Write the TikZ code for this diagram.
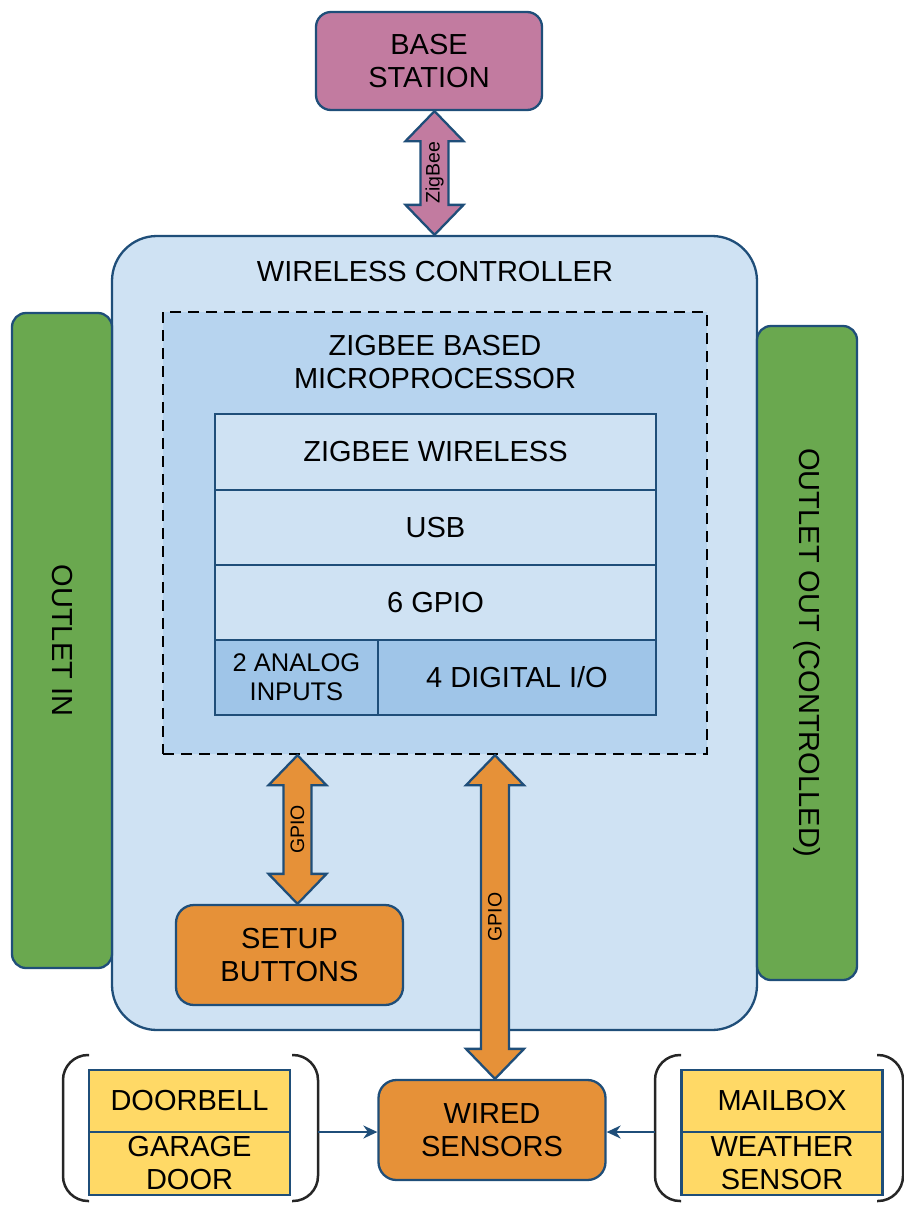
\documentclass[tikz,border=0pt]{standalone}
\usepackage{fontspec}
\setmainfont{Liberation Sans}
\usepackage{graphicx}
\usetikzlibrary{calc,arrows.meta}

\definecolor{bluebord}{HTML}{1F4E79}
\definecolor{pinkbox}{HTML}{C27BA0}
\definecolor{lightblue}{HTML}{CFE2F3}
\definecolor{midblue}{HTML}{B7D4EF}
\definecolor{darkblue}{HTML}{9FC5E8}
\definecolor{greenbox}{HTML}{6AA84F}
\definecolor{orangebox}{HTML}{E69138}
\definecolor{yellowbox}{HTML}{FFD966}

\newcommand{\mainsize}{\fontsize{29}{33}\selectfont}
\newcommand{\smallsize}{\fontsize{25.5}{29}\selectfont}
\newcommand{\tinysize}{\fontsize{19.5}{22}\selectfont}

% fat double arrow between two anchors, with a label along it
\newcommand{\fatarrow}[4]{%
	\draw[fatarrowline, fill=#3] let \p1=(#1), \p2=(#2) in
	(\x2,\y1) -- (\x2+29pt,\y1-30pt) -- (\x2+14pt,\y1-30pt) -- (\x2+14pt,\y2+30pt)
	-- (\x2+29pt,\y2+30pt) -- (\x2,\y2) -- (\x2-29pt,\y2+30pt) -- (\x2-14pt,\y2+30pt)
	-- (\x2-14pt,\y1-30pt) -- (\x2-29pt,\y1-30pt) -- cycle
	(\x2,{(\y1+\y2)/2}) node[rotate=90, font=\tinysize] {#4};}

\begin{document}
\begin{tikzpicture}[x=1pt,y=-1pt]
		
		\tikzstyle{bigbox}=[draw=bluebord,
		line width=2.3pt,
		rounded corners=15pt,
		inner sep=0pt,
		align=center,
		font=\mainsize
		]
		\tikzstyle{stackbox}=[draw=bluebord,
		line width=2.3pt,
		inner sep=0pt,
		align=center,
		font=\mainsize
		]
		\tikzstyle{fatarrowline}=[draw=bluebord,
		line width=2.3pt,
		line join=miter
		]
		\tikzstyle{bracket}=[draw=black!85,
		line width=2.5pt,
		rounded corners=25pt
		]
		\tikzstyle{thinarrow}=[draw=bluebord,
		line width=2pt,
		-{Stealth[length=14pt,width=13pt]}
		]
		
		\useasboundingbox (0,0) rectangle (904,1205);
		
		\coordinate (pbs) at (429, 61);
		\coordinate (pwc) at (434.5, 633);
		\coordinate (poin) at (62, 640.5);
		\coordinate (pout) at (807, 653);
		\coordinate (pmp) at (435, 533);
		
		\coordinate (pzw) at (435.5, 452);
		\coordinate (pusb) at (435.5, 527.5);
		\coordinate (pgp) at (435.5, 602.5);
		\coordinate (pan) at (296.5, 677.5);
		\coordinate (pdi) at (517, 677.5);
		
		\coordinate (psb) at (289.5, 955);
		\coordinate (pws) at (492, 1130);
		
		\coordinate (pdb) at (189.5, 1101);
		\coordinate (pgd) at (189.5, 1163.5);
		\coordinate (pmb) at (782, 1101);
		\coordinate (pwe) at (782, 1163.5);
		
		\coordinate (lbe) at (318, 1132);
		\coordinate (rbe) at (655, 1132);
		
		
		\node[bigbox, fill=pinkbox, minimum width=226pt, minimum height=98pt] (bs) at (pbs) {BASE\\STATION};
		
		\node[bigbox, fill=lightblue, rounded corners=45pt, minimum width=645pt, minimum height=794pt] (wc) at (pwc) {};
		\node[font=\mainsize] (wct) at (435, 272) {WIRELESS CONTROLLER};
		
		\node[bigbox, fill=greenbox, rounded corners=14pt, minimum width=100pt, minimum height=655pt] (oin) at (poin) {\rotatebox{-90}{OUTLET IN}};
		\node[bigbox, fill=greenbox, rounded corners=14pt, minimum width=100pt, minimum height=654pt] (oout) at (pout) {\rotatebox{-90}{OUTLET OUT (CONTROLLED)}};
		
		\node[draw=black, line width=2.5pt, dash pattern=on 11pt off 7pt, fill=midblue, minimum width=544pt, minimum height=442pt] (mp) at (pmp) {};
		\node[font=\mainsize, align=center] (mpt) at (435, 362) {ZIGBEE BASED\\MICROPROCESSOR};
		
		\node[stackbox, fill=lightblue, minimum width=441pt, minimum height=76pt] (zw) at (pzw) {ZIGBEE WIRELESS};
		\node[stackbox, fill=lightblue, minimum width=441pt, minimum height=75pt] (usb) at (pusb) {USB};
		\node[stackbox, fill=lightblue, minimum width=441pt, minimum height=75pt] (gp) at (pgp) {6 GPIO};
		\node[stackbox, fill=darkblue, minimum width=163pt, minimum height=75pt, font=\smallsize] (an) at (pan) {2 ANALOG\\INPUTS};
		\node[stackbox, fill=darkblue, minimum width=278pt, minimum height=75pt] (di) at (pdi) {4 DIGITAL I/O};
		
		\node[bigbox, fill=orangebox, rounded corners=18pt, minimum width=227pt, minimum height=100pt] (sb) at (psb) {SETUP\\BUTTONS};
		\node[bigbox, fill=orangebox, rounded corners=18pt, minimum width=227pt, minimum height=100pt] (ws) at (pws) {WIRED\\SENSORS};
		
		\node[stackbox, fill=yellowbox, minimum width=201pt, minimum height=62pt] (db) at (pdb) {DOORBELL};
		\node[stackbox, fill=yellowbox, minimum width=201pt, minimum height=63pt] (gd) at (pgd) {GARAGE\\DOOR};
		\node[stackbox, fill=yellowbox, minimum width=201pt, minimum height=62pt] (mb) at (pmb) {MAILBOX};
		\node[stackbox, fill=yellowbox, minimum width=201pt, minimum height=63pt] (we) at (pwe) {WEATHER\\SENSOR};
		
		
		\fatarrow{bs.south}{wc.north}{pinkbox}{ZigBee}
		\fatarrow{mp.south -| sb.north}{[xshift=8pt]sb.north}{orangebox}{GPIO}
		\fatarrow{mp.south -| ws.north}{[xshift=3pt]ws.north}{orangebox}{GPIO}
		
		
		\draw[bracket] (89, 1055) -- (63, 1055) -- (63, 1201) -- (89, 1201);
		\draw[bracket] (292, 1055) -- (318, 1055) -- (318, 1201) -- (292, 1201);
		\draw[bracket] (681, 1055) -- (655, 1055) -- (655, 1201) -- (681, 1201);
		\draw[bracket] (877, 1055) -- (903, 1055) -- (903, 1201) -- (877, 1201);
		
		\draw[thinarrow] (lbe) -- (ws.west |- lbe);
		\draw[thinarrow] (rbe) -- (ws.east |- rbe);
		
\end{tikzpicture}
\end{document}
